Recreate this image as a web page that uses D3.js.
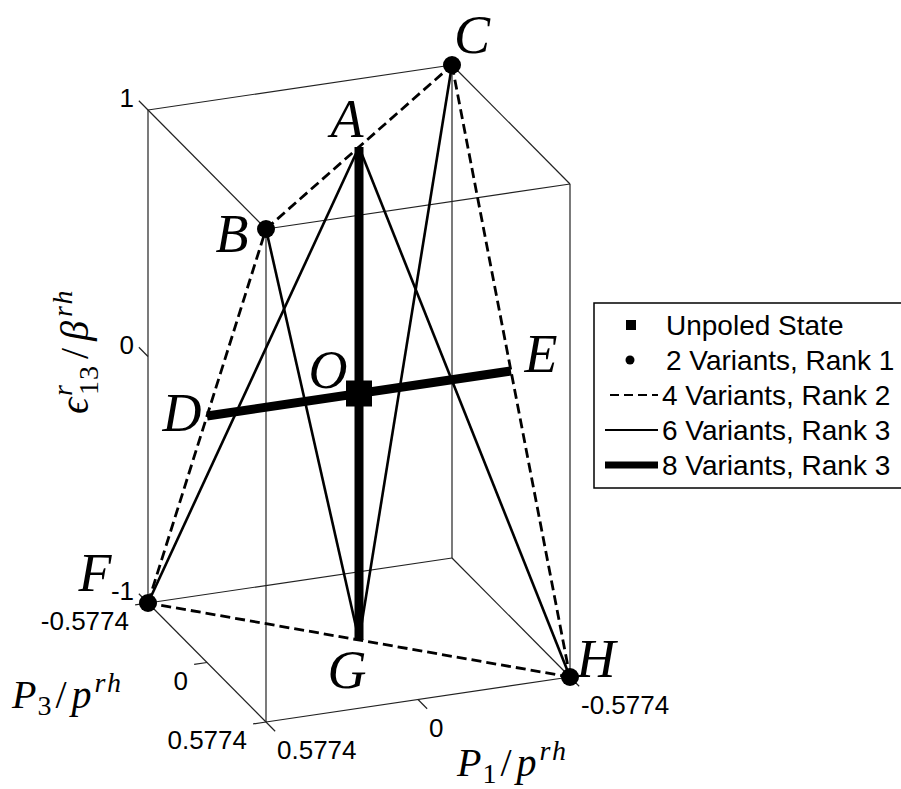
<!DOCTYPE html>
<html>
<head>
<meta charset="utf-8">
<script src="https://cdn.jsdelivr.net/npm/d3@7"></script>
<style>
  html, body { margin: 0; padding: 0; background: #fff; }
  svg { display: block; }
  .tick-label { font-family: "Liberation Sans", Arial, sans-serif; font-size: 26px; fill: #000; }
  .legend-text { font-family: "Liberation Sans", Arial, sans-serif; font-size: 28px; fill: #000; }
  .math { font-family: "Liberation Serif", "Times New Roman", serif; fill: #000; }
</style>
</head>
<body>
<svg id="chart" width="901" height="789"></svg>
<script>
// ---- Data -----------------------------------------------------------------
const L = 0.5774;

// Named states of the polarization/strain diagram
const stateNames = ["A", "B", "C", "D", "E", "F", "G", "H", "O"];
const stateP1    = [0,  0.5774, -0.5774, 0.5774, -0.5774, 0.5774, 0, -0.5774, 0];
const stateP3    = [0,  0.5774, -0.5774, 0,       0,      -0.5774, 0,  0.5774, 0];
const stateE13   = [1,  1,       1,      0,       0,      -1,     -1, -1,      0];

// Connections grouped by family
const rank2Pairs     = [["B", "C"], ["C", "H"], ["H", "F"], ["F", "B"]];
const rank3Pairs     = [["A", "F"], ["A", "H"], ["B", "G"], ["C", "G"]];
const rank3WidePairs = [["A", "G"], ["D", "E"]];
const rank1States    = ["B", "C", "F", "H"];
const unpoledStates  = ["O"];

// Axis ticks
const p1Ticks = [-0.5774, 0, 0.5774];
const p1TickLabels = ["-0.5774", "0", "0.5774"];
const p3Ticks = [-0.5774, 0, 0.5774];
const p3TickLabels = ["-0.5774", "0", "0.5774"];
const e13Ticks = [-1, 0, 1];
const e13TickLabels = ["-1", "0", "1"];

// Legend entries
const legendLabels = ["Unpoled State", "2 Variants, Rank 1", "4 Variants, Rank 2", "6 Variants, Rank 3", "8 Variants, Rank 3"];
const legendKinds  = ["square", "circle", "dashed", "thin", "thick"];

// ---- Oblique 3-D view built from linear scales ---------------------------
const cx = 359, cy = 393.5;
const p1ToX = d3.scaleLinear().domain([-L, L]).range([152, -152]);
const p1ToY = d3.scaleLinear().domain([-L, L]).range([-22.5, 22.5]);
const p3ToX = d3.scaleLinear().domain([-L, L]).range([-59, 59]);
const p3ToY = d3.scaleLinear().domain([-L, L]).range([-59.5, 59.5]);
const e13ToY = d3.scaleLinear().domain([-1, 1]).range([246.5, -246.5]);

function project(p1, p3, e) {
  return [cx + p1ToX(p1) + p3ToX(p3), cy + p1ToY(p1) + p3ToY(p3) + e13ToY(e)];
}

const statePos = {};
stateNames.forEach((n, i) => { statePos[n] = project(stateP1[i], stateP3[i], stateE13[i]); });

const svg = d3.select("#chart");
const g = svg.append("g");

// ---- Bounding box -------------------------------------------------------
const p1Ext = d3.extent(p1Ticks), p3Ext = d3.extent(p3Ticks), eExt = d3.extent(e13Ticks);
const boxEdges = [];
for (const a of p3Ext) for (const e of eExt) boxEdges.push([[p1Ext[0], a, e], [p1Ext[1], a, e]]);
for (const a of p1Ext) for (const e of eExt) boxEdges.push([[a, p3Ext[0], e], [a, p3Ext[1], e]]);
for (const a of p1Ext) for (const b of p3Ext) boxEdges.push([[a, b, eExt[0]], [a, b, eExt[1]]]);

const line = d3.line();
g.append("g").selectAll("path").data(boxEdges).join("path")
  .attr("d", d => line([project(...d[0]), project(...d[1])]))
  .attr("fill", "none").attr("stroke", "#222").attr("stroke-width", 1.2);

// ---- Ticks --------------------------------------------------------------
const tickLen = 13;
function unitDir(v) { const l = Math.hypot(v[0], v[1]); return [v[0] / l, v[1] / l]; }
const dirP1 = unitDir([p1ToX(L) - p1ToX(0), p1ToY(L) - p1ToY(0)]);
const dirP3 = unitDir([p3ToX(L) - p3ToX(0), p3ToY(L) - p3ToY(0)]);

// vertical axis on the (P1 max, P3 min) edge; ticks point toward -P3
const ticksG = g.append("g");
e13Ticks.forEach((t, i) => {
  const [x, y] = project(p1Ext[1], p3Ext[0], t);
  ticksG.append("line").attr("x1", x).attr("y1", y)
    .attr("x2", x - dirP3[0] * tickLen).attr("y2", y - dirP3[1] * tickLen)
    .attr("stroke", "#222").attr("stroke-width", 1.2);
  ticksG.append("text").attr("class", "tick-label")
    .attr("x", x - 14).attr("y", y - 12).attr("dy", "0.35em")
    .attr("text-anchor", "end").text(e13TickLabels[i]);
});

// P3 axis along the bottom-left edge; ticks point toward +P1
p3Ticks.forEach((t, i) => {
  const [x, y] = project(p1Ext[1], t, eExt[0]);
  ticksG.append("line").attr("x1", x).attr("y1", y)
    .attr("x2", x + dirP1[0] * tickLen).attr("y2", y + dirP1[1] * tickLen)
    .attr("stroke", "#222").attr("stroke-width", 1.2);
  ticksG.append("text").attr("class", "tick-label")
    .attr("x", x - 19).attr("y", y + 18).attr("dy", "0.35em")
    .attr("text-anchor", "end").text(p3TickLabels[i]);
});

// P1 axis along the bottom-right edge; ticks point toward +P3
p1Ticks.forEach((t, i) => {
  const [x, y] = project(t, p3Ext[1], eExt[0]);
  ticksG.append("line").attr("x1", x).attr("y1", y)
    .attr("x2", x + dirP3[0] * tickLen).attr("y2", y + dirP3[1] * tickLen)
    .attr("stroke", "#222").attr("stroke-width", 1.2);
  ticksG.append("text").attr("class", "tick-label")
    .attr("x", x + 11).attr("y", y + 28).attr("dy", "0.35em")
    .attr("text-anchor", "start").text(p1TickLabels[i]);
});

// ---- Transformation paths ----------------------------------------------
const pairPath = p => line([statePos[p[0]], statePos[p[1]]]);

g.append("g").selectAll("path").data(rank2Pairs).join("path")
  .attr("d", pairPath).attr("fill", "none").attr("stroke", "#000")
  .attr("stroke-width", 2.8).attr("stroke-dasharray", "10,5");

g.append("g").selectAll("path").data(rank3Pairs).join("path")
  .attr("d", pairPath).attr("fill", "none").attr("stroke", "#000")
  .attr("stroke-width", 2.6);

g.append("g").selectAll("path").data(rank3WidePairs).join("path")
  .attr("d", pairPath).attr("fill", "none").attr("stroke", "#000")
  .attr("stroke-width", 9);

// ---- Markers ------------------------------------------------------------
g.append("g").selectAll("circle").data(rank1States).join("circle")
  .attr("cx", d => statePos[d][0]).attr("cy", d => statePos[d][1])
  .attr("r", 9).attr("fill", "#000");

const sq = 26;
g.append("g").selectAll("rect").data(unpoledStates).join("rect")
  .attr("x", d => statePos[d][0] - sq / 2).attr("y", d => statePos[d][1] - sq / 2)
  .attr("width", sq).attr("height", sq).attr("fill", "#000");

// ---- State letters ------------------------------------------------------
const letterOffset = {
  A: [-12, -10], B: [-34, 23], C: [20, -12], D: [-25, 15], E: [30, 1],
  F: [-53, -12], G: [-12, 48], H: [26, 0], O: [-31, -6]
};
g.append("g").selectAll("text").data(stateNames).join("text")
  .attr("class", "math")
  .attr("x", d => statePos[d][0] + letterOffset[d][0])
  .attr("y", d => statePos[d][1] + letterOffset[d][1])
  .attr("text-anchor", "middle")
  .attr("font-size", 54).attr("font-style", "italic")
  .text(d => d);

// ---- Axis titles --------------------------------------------------------
function axisTitle(sel, sub) {
  sel.append("tspan").attr("font-style", "italic").text("P");
  sel.append("tspan").attr("font-size", 28).attr("dy", 7).attr("dx", 1).text(sub);
  sel.append("tspan").attr("dy", -7).attr("dx", 4).text("/");
  sel.append("tspan").attr("font-style", "italic").attr("dx", 5).text("p");
  sel.append("tspan").attr("font-style", "italic").attr("font-size", 28).attr("dy", -16).attr("dx", 3)
    .attr("letter-spacing", 2).text("rh");
}
axisTitle(g.append("text").attr("class", "math").attr("font-size", 40).attr("x", 457).attr("y", 776), "1");
axisTitle(g.append("text").attr("class", "math").attr("font-size", 40).attr("x", 12).attr("y", 708), "3");

const eTitle = g.append("text").attr("class", "math").attr("font-size", 40)
  .attr("transform", "translate(88,414) rotate(-90)");
eTitle.append("tspan").attr("font-style", "italic").text("\u03F5");
eTitle.append("tspan").attr("font-style", "italic").attr("font-size", 28).attr("dy", -16).attr("dx", 2).text("r");
eTitle.append("tspan").attr("font-size", 28).attr("dy", 26).attr("dx", -10).attr("letter-spacing", 1).text("13");
eTitle.append("tspan").attr("dy", -10).attr("dx", 6).text("/");
eTitle.append("tspan").attr("font-style", "italic").attr("dx", 7).text("\u03B2");
eTitle.append("tspan").attr("font-style", "italic").attr("font-size", 28).attr("dy", -16).attr("dx", 4)
  .attr("letter-spacing", 2).text("rh");

// ---- Legend -------------------------------------------------------------
const lg = svg.append("g");
const lgX = 594, lgY = 303, lgW = 320, lgH = 185, rowH = 35;
lg.append("rect").attr("x", lgX).attr("y", lgY).attr("width", lgW).attr("height", lgH)
  .attr("fill", "#fff").attr("stroke", "#000").attr("stroke-width", 1.5);

legendLabels.forEach((lab, i) => {
  const y = lgY + 22 + i * rowH;
  const kind = legendKinds[i];
  if (kind === "square") {
    lg.append("rect").attr("x", 626).attr("y", y - 5).attr("width", 10).attr("height", 10).attr("fill", "#000");
  } else if (kind === "circle") {
    lg.append("circle").attr("cx", 630).attr("cy", y).attr("r", 4.5).attr("fill", "#000");
  } else {
    lg.append("line").attr("x1", kind === "dashed" ? 610 : 605).attr("x2", 658)
      .attr("y1", y).attr("y2", y).attr("stroke", "#000")
      .attr("stroke-width", kind === "thick" ? 7 : 2)
      .attr("stroke-dasharray", kind === "dashed" ? "9,5" : null);
  }
  lg.append("text").attr("class", "legend-text")
    .attr("x", i < 2 ? 666 : 662).attr("y", y).attr("dy", "0.35em").text(lab);
});
</script>
</body>
</html>
